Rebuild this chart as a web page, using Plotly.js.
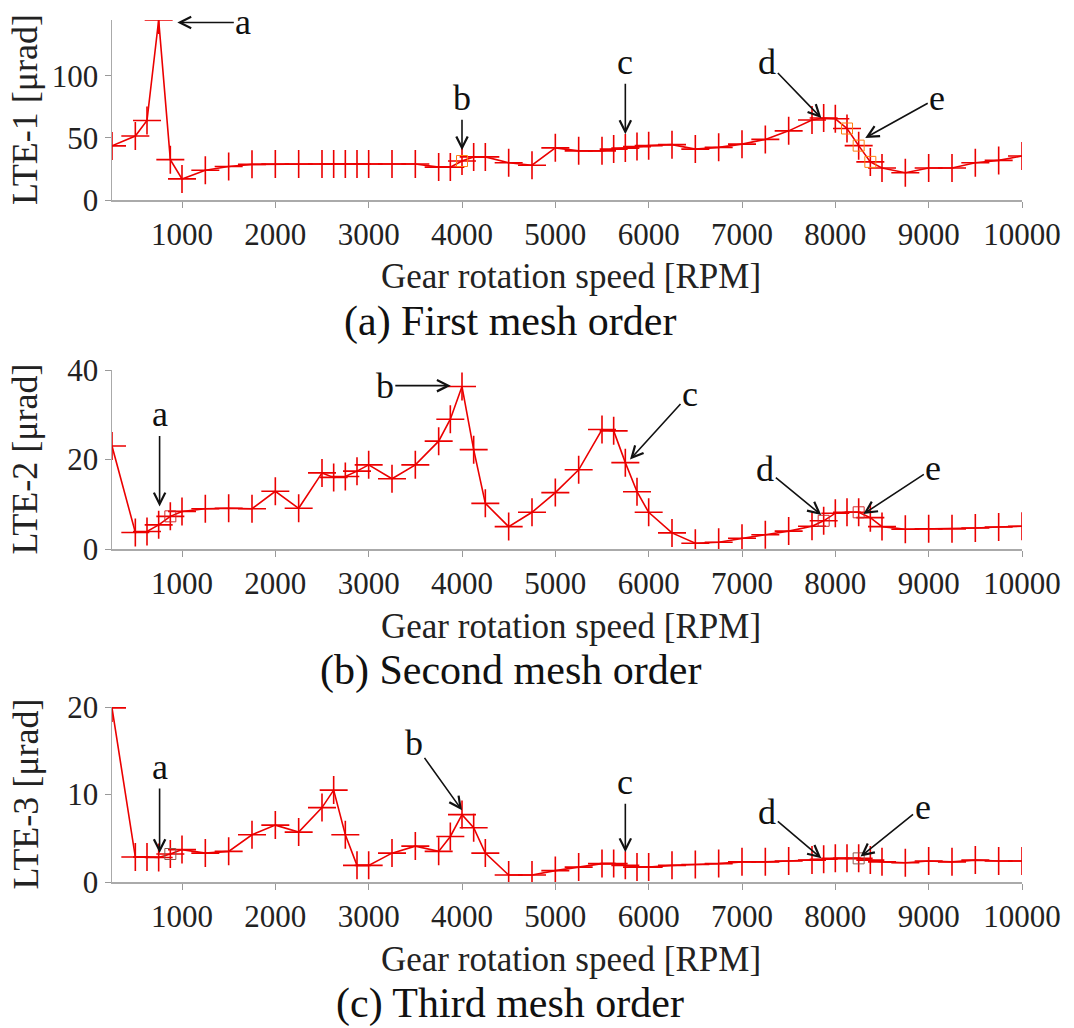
<!DOCTYPE html>
<html>
<head>
<meta charset="utf-8">
<script src="https://cdn.plot.ly/plotly-3.0.1.min.js"></script>
<style>
html,body{margin:0;padding:0;background:#fff;}
#chart{width:1074px;height:1028px;}
#chart svg text{font-family:"Liberation Serif",serif !important;}
</style>
</head>
<body>
<div id="chart"></div>
<script>
// ---- data ----
const rpm = [250,500,625,750,875,1000,1250,1500,1750,2000,2250,2500,2625,2750,2875,3000,3250,3500,3750,3875,4000,4125,4250,4500,4750,
             5000,5250,5500,5625,5750,5875,6000,6250,6500,6750,7000,7250,7500,7750,7875,8000,8125,8250,8375,8500,8750,9000,9250,9500,9750,10000];
const lte1 = [43.6,51.5,64,145,32.5,17,24,27,28.7,29,29,29,29,29,29,29,29,29,26.5,26.5,31.4,34.7,34.7,30,28,
              42,39.6,39.6,41,41.8,43,43.8,44.6,41,42.4,45,48.8,55.7,64.5,66,65.4,57.6,43.8,30.7,25.8,22,25.8,25.8,30,31.9,35.5];
const lte2 = [23,3.7,3.9,5.4,7.3,8.4,9,9.1,9,12.9,9.1,17,16,16.2,17.4,18.8,15.7,18.8,24.1,29,36.3,22.2,10.2,5,8.2,
              12.6,17.7,26.7,26.4,19.3,12.8,8.2,3.6,1.3,1.5,2.4,3.2,4,5.1,6.3,8,8.2,8.2,7,5,4.4,4.5,4.5,4.7,4.9,5.1];
const lte3 = [19.9,2.85,2.85,2.8,3.2,3.7,3.3,3.5,5.4,6.5,5.7,8.5,10.5,5.4,1.9,1.9,3.3,4.1,3.5,5.2,7.7,6.2,3.3,0.8,0.8,
              1.3,1.7,2.1,2.1,1.9,1.7,1.7,1.9,2,2.1,2.3,2.3,2.4,2.5,2.6,2.7,2.7,2.7,2.5,2.3,2.2,2.4,2.3,2.5,2.4,2.4];
// points drawn with an extra square marker
const sq1 = [4000,8125,8250,8375];
const sq2 = [875,7875,8250];
const sq3 = [875,8250];
const xTicks = [1000,2000,3000,4000,5000,6000,7000,8000,9000,10000];
const xTickText = ["1000","2000","3000","4000","5000","6000","7000","8000","9000","10000"];
const yTicks1 = [0,50,100], yTicks2 = [0,20,40], yTicks3 = [0,10,20];
const yTitles = ["LTE-1 [μrad]","LTE-2 [μrad]","LTE-3 [μrad]"];
const xTitle = "Gear rotation speed [RPM]";
const captions = ["(a) First mesh order","(b) Second mesh order","(c) Third mesh order"];
// annotation letters: [plot, letter, x, y, ax, ay]
const labels = [
  [1,"a",950,143,66,0],[1,"b",4000,40,0,-52],[1,"c",5750,53,0,-72],[1,"d",7850,66,-54,-56],[1,"e",8320,50,72,-40],
  [2,"a",760,9.5,0,-92],[2,"b",3880,36.5,-66,0],[2,"c",5800,20,60,-66],[2,"d",7850,7.6,-56,-46],[2,"e",8300,7.8,70,-46],
  [3,"a",760,3.3,0,-86],[3,"b",4000,8.2,-48,-67],[3,"c",5750,3.4,0,-70],[3,"d",7850,2.7,-54,-46],[3,"e",8270,2.9,62,-50]
];

// ---- geometry (paper fractions) ----
const W = 1074, H = 1028;
const xl = 112, xr = 1022;
const plots = [{top:20, bot:200},{top:370, bot:549},{top:707, bot:882}];
const RED = "rgb(235,0,0)";
const FONT = "Liberation Serif";

function pick(xs, series){ return xs.map(v => series[rpm.indexOf(v)]); }

const series = [lte1, lte2, lte3];
const sqs = [sq1, sq2, sq3];
const traces = [];
series.forEach((s, i) => {
  const ax = i === 0 ? "" : String(i + 1);
  traces.push({x: rpm, y: s, xaxis: "x" + ax, yaxis: "y" + ax, type: "scatter", mode: "lines+markers",
    line: {color: RED, width: 1.6},
    marker: {symbol: "cross-thin-open", size: 20, line: {color: RED, width: 1.6}},
    showlegend: false, hoverinfo: "skip"});
  traces.push({x: sqs[i], y: pick(sqs[i], s), xaxis: "x" + ax, yaxis: "y" + ax, type: "scatter", mode: "markers",
    marker: {symbol: "square-open", size: 11, line: {color: RED, width: 1}},
    showlegend: false, hoverinfo: "skip"});
});

const layout = {
  width: W, height: H, margin: {l: 0, r: 0, t: 0, b: 0},
  paper_bgcolor: "#fff", plot_bgcolor: "#fff",
  font: {family: FONT, color: "#222"},
  annotations: []
};
const yr = [[0,145],[0,40],[0,20]];
const yt = [yTicks1, yTicks2, yTicks3];
plots.forEach((p, i) => {
  const k = i === 0 ? "" : String(i + 1);
  layout["xaxis" + k] = {domain: [xl / W, xr / W], range: [250, 10000], anchor: "y" + k,
    tickvals: xTicks, ticktext: xTickText, ticks: "outside", ticklen: 6, tickcolor: "#999", tickwidth: 1,
    ticklabelstandoff: 0,
    showline: true, linecolor: "#aaa", linewidth: 1.5, showgrid: false, zeroline: false,
    tickfont: {family: FONT, size: 31, color: "#222"}};
  layout["yaxis" + k] = {domain: [1 - p.bot / H, 1 - p.top / H], range: yr[i], anchor: "x" + k,
    tickvals: yt[i], ticks: "outside", ticklen: 6, tickcolor: "#999", tickwidth: 1,
    showline: true, linecolor: "#aaa", linewidth: 1.5, showgrid: false, zeroline: false,
    tickfont: {family: FONT, size: 31, color: "#222"}};
  // y title
  layout.annotations.push({xref: "paper", yref: "paper", x: 25 / W, y: 1 - ((p.top + p.bot) / 2) / H,
    text: yTitles[i], textangle: -90, showarrow: false, xanchor: "center", yanchor: "middle",
    font: {family: FONT, size: 36, color: "#222"}});
  // x title
  layout.annotations.push({xref: "paper", yref: "paper", x: 571 / W, y: 1 - (p.bot + 77) / H,
    text: xTitle, showarrow: false, xanchor: "center", yanchor: "middle",
    font: {family: FONT, size: 35, color: "#222"}});
  // caption
  layout.annotations.push({xref: "paper", yref: "paper", x: 510 / W, y: 1 - (p.bot + 121) / H,
    text: captions[i], showarrow: false, xanchor: "center", yanchor: "middle",
    font: {family: FONT, size: 42, color: "#111"}});
});
labels.forEach(l => {
  const k = l[0] === 1 ? "" : String(l[0]);
  layout.annotations.push({xref: "x" + k, yref: "y" + k, x: l[2], y: l[3], ax: l[4], ay: l[5],
    text: l[1], showarrow: true, arrowhead: 5, arrowsize: 1.4, arrowwidth: 1.6, arrowcolor: "#111",
    font: {family: FONT, size: 36, color: "#111"}});
});

Plotly.newPlot("chart", traces, layout, {displayModeBar: false, staticPlot: true});
</script>
</body>
</html>
